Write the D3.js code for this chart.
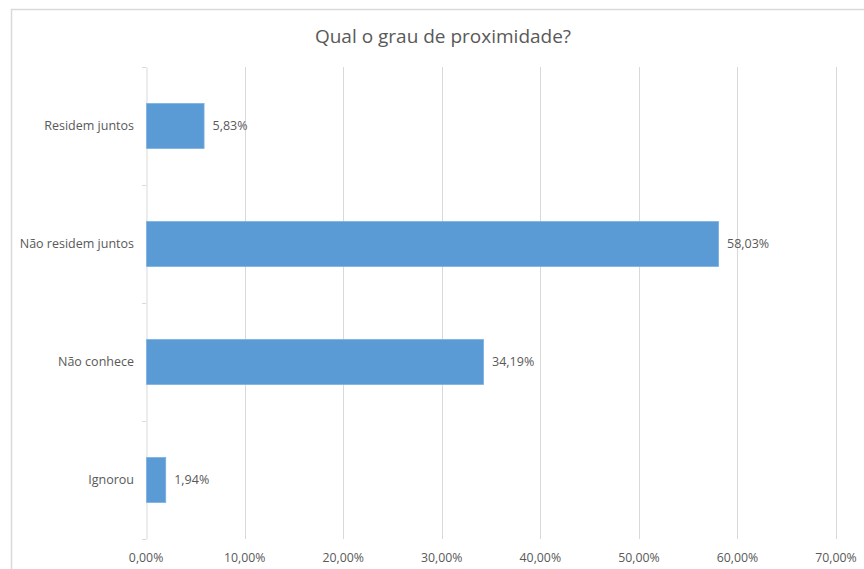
<!DOCTYPE html>
<html><head><meta charset="utf-8">
<script src="https://cdn.jsdelivr.net/npm/d3@7"></script>
<style>body{margin:0;background:#fff}</style>
</head><body>
<svg id="c" width="864" height="569"></svg>
<script>
const categories = ["Residem juntos","Não residem juntos","Não conhece","Ignorou"];
const values = [5.83, 58.03, 34.19, 1.94];
const ticks = [0,10,20,30,40,50,60,70];
const title = "Qual o grau de proximidade?";

const svg = d3.select("#c");
const font = "'Open Sans', sans-serif";
const gray = "#595959";
const x = d3.scaleLinear().domain([0,70]).range([146.1, 836]);
const y = d3.scaleBand().domain(categories).range([67, 539]).paddingInner(0.62).paddingOuter(0.31);
const fmt = v => v.toFixed(2).replace(".", ",") + "%";

svg.append("rect").attr("x",11.5).attr("y",9.5).attr("width",900).attr("height",600)
  .attr("fill","#fff").attr("stroke","#d9d9d9").attr("stroke-width",1.5);

svg.append("text").attr("x",443).attr("y",43).attr("text-anchor","middle")
  .attr("font-family",font).attr("font-size",19).attr("fill",gray).text(title);

// gridlines
svg.append("g").selectAll("line").data(ticks.slice(1)).join("line")
  .attr("x1",d=>Math.round(x(d))+0.5).attr("x2",d=>Math.round(x(d))+0.5)
  .attr("y1",67).attr("y2",539).attr("stroke","#d9d9d9").attr("stroke-width",1);

// x tick labels
svg.append("g").selectAll("text").data(ticks).join("text")
  .attr("x",d=>x(d)).attr("y",562).attr("text-anchor","middle")
  .attr("font-family",font).attr("font-size",12.3).attr("fill",gray).text(d=>fmt(d));

// left axis
const yAxis = d3.axisLeft(y).tickSize(0).tickFormat("");
const ax = svg.append("g").attr("transform",`translate(${Math.round(x(0))+0.5},0)`).call(yAxis);
ax.select(".domain").attr("stroke","#d9d9d9");
const bounds = [67,185,303,421,539];
svg.append("g").selectAll("line").data(bounds).join("line")
  .attr("x1",142).attr("x2",x(0)).attr("y1",d=>d+0.5).attr("y2",d=>d+0.5)
  .attr("stroke","#d9d9d9");

// category labels
svg.append("g").selectAll("text").data(categories).join("text")
  .attr("x",134).attr("y",d=>y(d)+y.bandwidth()/2).attr("dy","0.35em")
  .attr("text-anchor","end").attr("font-family",font).attr("font-size",12.5)
  .attr("fill",gray).text(d=>d);

// bars
svg.append("g").selectAll("rect").data(values).join("rect")
  .attr("x",x(0)+0.5).attr("y",(d,i)=>y(categories[i]))
  .attr("width",d=>x(d)-x(0)).attr("height",y.bandwidth())
  .attr("fill","#5b9bd5").attr("stroke","#7aaedf").attr("stroke-width",0.8);

// value labels
svg.append("g").selectAll("text").data(values).join("text")
  .attr("x",d=>x(d)+9).attr("y",(d,i)=>y(categories[i])+y.bandwidth()/2).attr("dy","0.35em")
  .attr("font-family",font).attr("font-size",12.5).attr("fill",gray).text(d=>fmt(d));
</script>
</body></html>
